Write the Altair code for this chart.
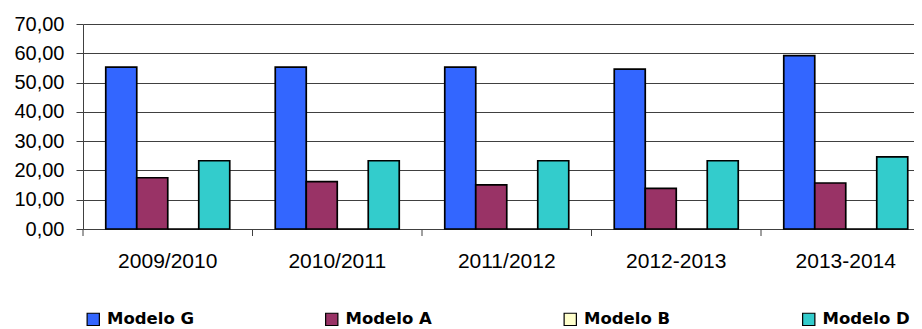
import altair as alt
import pandas as pd

categories = ["2009/2010", "2010/2011", "2011/2012", "2012-2013", "2013-2014"]
series_names = ["Modelo G", "Modelo A", "Modelo B", "Modelo D"]
modelo_g = [55.3, 55.3, 55.3, 54.6, 59.2]
modelo_a = [17.5, 16.2, 15.1, 13.9, 15.7]
modelo_b = [0.0, 0.0, 0.0, 0.0, 0.0]
modelo_d = [23.3, 23.3, 23.3, 23.3, 24.6]
colors = ["#3366FF", "#993366", "#FFFFCC", "#33CCCC"]

rows = []
for name, vals in zip(series_names, [modelo_g, modelo_a, modelo_b, modelo_d]):
    for c, v in zip(categories, vals):
        rows.append({"periodo": c, "serie": name, "valor": v})
df = pd.DataFrame(rows)
cats_df = pd.DataFrame({"periodo": categories})

PLOT_H = 205
STEP = 169.5

x_scale = alt.Scale(domain=categories, range=[0, STEP * len(categories)],
                    paddingInner=0, paddingOuter=0)

bars = alt.Chart(df).mark_bar(stroke="black", strokeWidth=1.7).encode(
    x=alt.X("periodo:N", sort=categories, scale=x_scale, title=None,
            axis=alt.Axis(labelAngle=0, ticks=False, tickSize=0, labelPadding=21,
                          labelFontSize=21, labelFont="Liberation Sans",
                          labelColor="black", domainColor="#404040", domainWidth=1,
                          grid=False)),
    xOffset=alt.XOffset("serie:N", sort=series_names,
                        scale=alt.Scale(paddingInner=0, paddingOuter=0.734)),
    y=alt.Y("valor:Q", scale=alt.Scale(domain=[0, 70]), title=None,
            axis=alt.Axis(values=[0, 10, 20, 30, 40, 50, 60, 70],
                          labelExpr="replace(format(datum.value, '.2f'), '.', ',')",
                          labelFontSize=20, labelFont="Liberation Sans", labelColor="black",
                          tickSize=7, tickColor="#404040", labelPadding=12,
                          domainColor="#404040", gridColor="#404040", gridWidth=1,
                          grid=True)),
    color=alt.Color("serie:N", sort=series_names,
                    scale=alt.Scale(domain=series_names, range=colors),
                    legend=alt.Legend(title=None, orient="none", legendX=2, legendY=287,
                                      direction="horizontal", columns=4, gridAlign="all",
                                      columnPadding=127.5, symbolType="square", symbolSize=150,
                                      symbolStrokeColor="black", symbolStrokeWidth=1.2,
                                      symbolOpacity=1,
                                      labelFont="DejaVu Sans", labelFontWeight="bold",
                                      labelFontSize=16.5, labelColor="black",
                                      labelOffset=5.5, padding=0, labelLimit=200)),
)

ticks = alt.Chart(cats_df).mark_rule(color="#404040", strokeWidth=1).encode(
    x=alt.X("periodo:N", sort=categories, scale=x_scale, bandPosition=0, title=None),
    y=alt.value(PLOT_H),
    y2=alt.value(PLOT_H + 7),
)

chart = alt.layer(bars, ticks).properties(
    width=831,
    height=PLOT_H,
    autosize=alt.AutoSizeParams(type="none"),
    padding={"left": 75, "top": 16, "right": 0, "bottom": 100},
).configure_view(stroke=None)

chart.save("out.html", embed_options={"renderer": "svg", "actions": False})
